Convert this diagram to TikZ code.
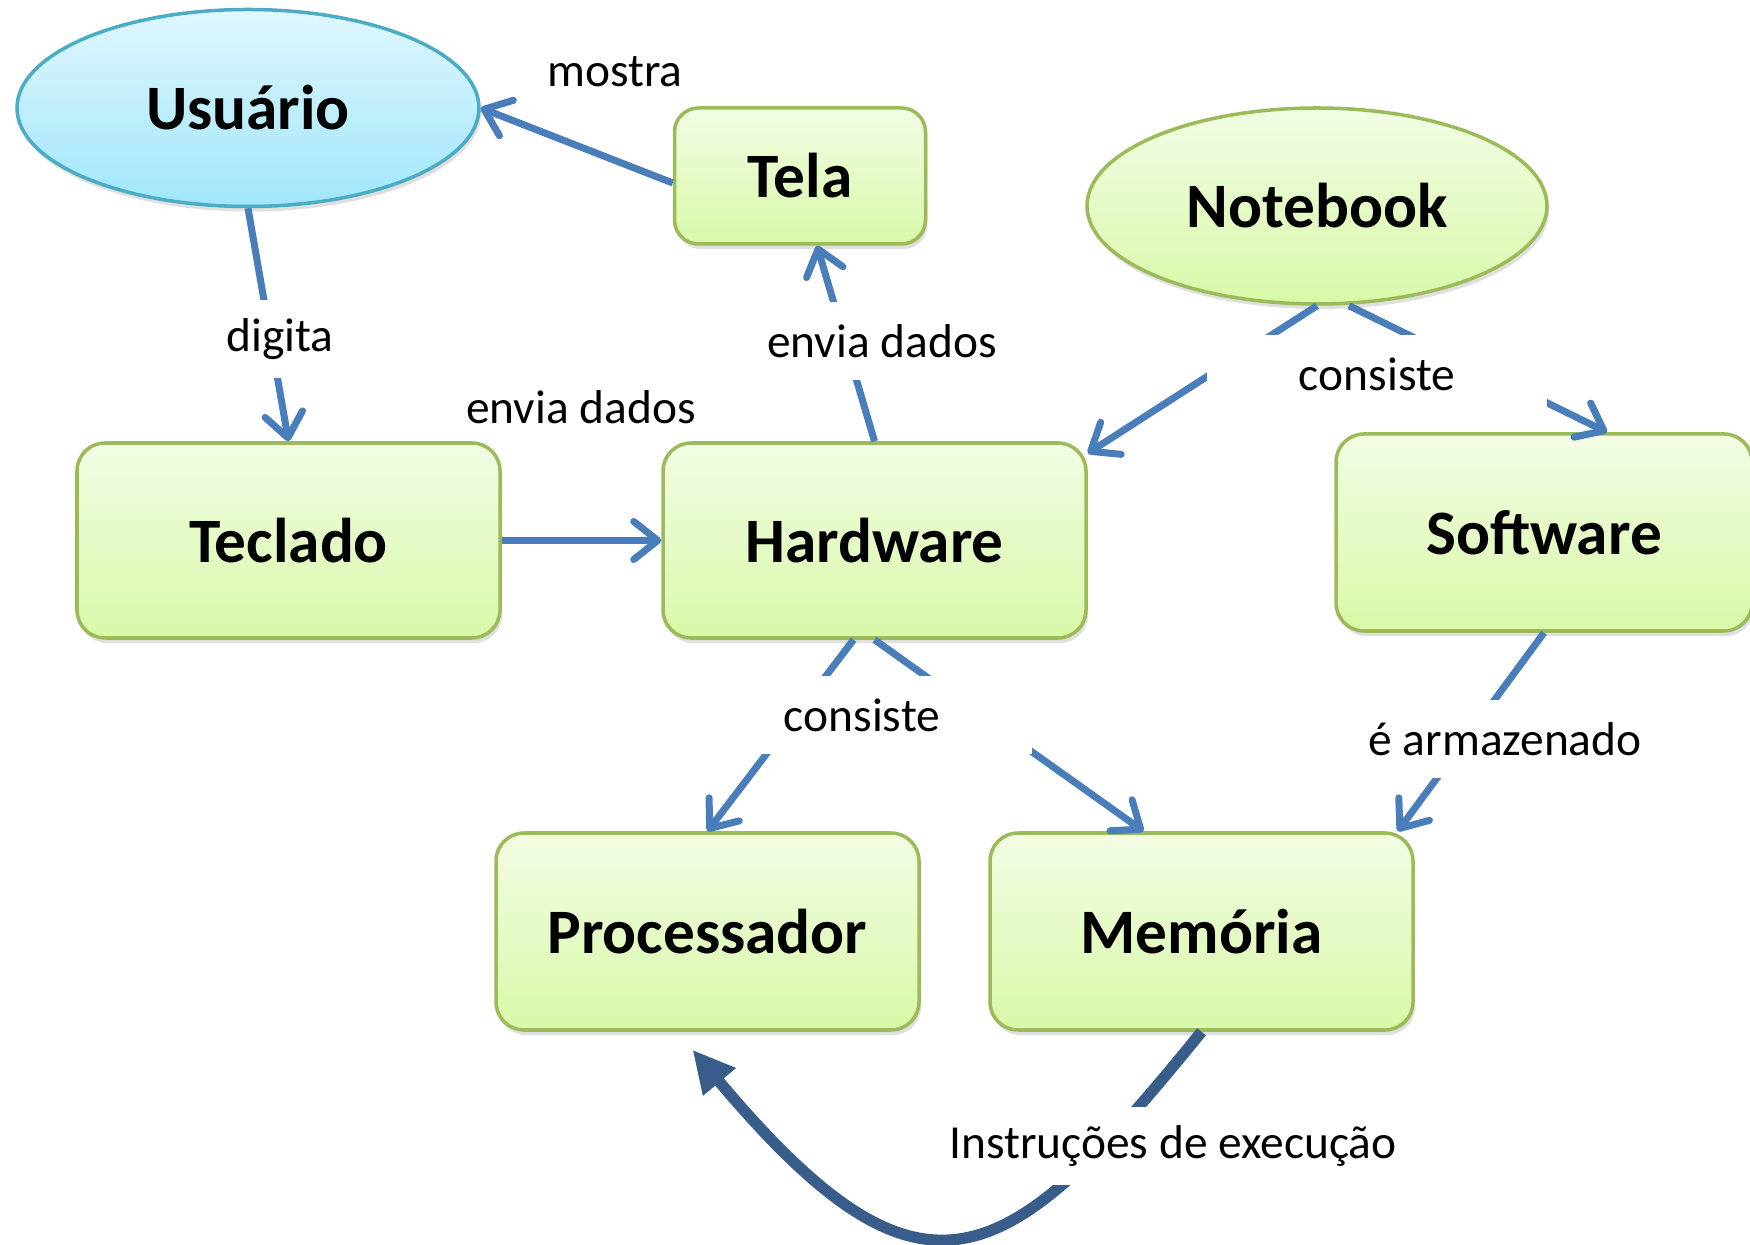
\documentclass[tikz,border=0pt]{standalone}
\usepackage{fontspec}
\setmainfont{Carlito}
\usetikzlibrary{arrows.meta,shadows,shapes.geometric}

\definecolor{lineblue}{RGB}{74,126,187}
\definecolor{curveblue}{RGB}{56,93,138}
\definecolor{boxgreen}{RGB}{155,187,89}
\definecolor{greentop}{RGB}{242,252,228}
\definecolor{greenbot}{RGB}{216,249,168}
\definecolor{cyanline}{RGB}{75,172,198}
\definecolor{cyantop}{RGB}{224,247,253}
\definecolor{cyanbot}{RGB}{160,230,251}

\begin{document}
\begin{tikzpicture}[
    concept/.style={draw=boxgreen, line width=1pt, top color=greentop, bottom color=greenbot,
        rounded corners=0.28cm, minimum width=4.23cm, minimum height=1.95cm,
        font=\fontsize{18}{21}\selectfont\bfseries,
        drop shadow={shadow xshift=0.02cm, shadow yshift=-0.05cm, opacity=0.25}},
    oval/.style={concept, ellipse, rounded corners=0pt, minimum width=4.6cm, minimum height=1.96cm},
    link/.style={font=\fontsize{13.5}{16}\selectfont},
    gap/.style={link, fill=white, minimum width=3.4cm, minimum height=0.78cm, inner sep=0pt},
    arr/.style={draw=lineblue, line width=2pt, -{Straight Barb[length=0.24cm,width=0.38cm,round]}},
    bigarr/.style={draw=curveblue, line width=3.2pt, -{Triangle[length=0.42cm,width=0.4cm]}}
  ]
    \useasboundingbox (0,0) rectangle (17.5,12.44);

    % Concepts
    \node[oval, draw=cyanline, top color=cyantop, bottom color=cyanbot, minimum width=4.62cm, minimum height=1.97cm] (usuario) at (2.48,11.36) {Usuário};
    \node[concept, minimum width=2.51cm, minimum height=1.36cm, rounded corners=0.24cm] (tela) at (8.00,10.68) {Tela};
    \node[oval] (notebook) at (13.17,10.38) {Notebook};
    \node[concept] (teclado) at (2.885,7.035) {Teclado};
    \node[concept] (hardware) at (8.745,7.035) {Hardware};
    \node[concept, minimum width=4.16cm, minimum height=1.97cm] (software) at (15.44,7.115) {Software};
    \node[concept, minimum height=1.97cm] (processador) at (7.075,3.125) {Processador};
    \node[concept, minimum height=1.97cm] (memoria) at (12.015,3.125) {Memória};

    % Connectors
    \draw[arr] ([yshift=-0.07cm]tela.west) -- (usuario.east);
    \draw[arr] (usuario.south) -- (teclado.north);
    \draw[arr] (teclado.east) -- (hardware.west);
    \draw[arr] (hardware.north) -- ([xshift=0.17cm]tela.south);
    \draw[arr] (notebook.south) -- ([yshift=-0.12cm]hardware.north east);
    \draw[arr] ([xshift=0.32cm]notebook.south) -- ([xshift=0.63cm]software.north);
    \draw[arr] ([xshift=-0.21cm]hardware.south) -- (processador.north);
    \draw[arr] (hardware.south) -- ([xshift=-0.58cm]memoria.north);
    \draw[arr] (software.south) -- ([xshift=-0.17cm]memoria.north east);

    % Instructions back to the processor
    \draw[bigarr] (memoria.south) .. controls +(-129:3.1cm) and +(-50:3.6cm) .. ([xshift=-0.15cm,yshift=-0.18cm]processador.south);

    % Linking phrases
    \node[link] (mostra) at (6.15,11.72) {mostra};
    \node[gap] (digita) at (2.80,9.05) {digita};
    \node[link] (enviaA) at (5.81,8.37) {envia dados};
    \node[gap] (enviaB) at (8.82,9.03) {envia dados};
    \node[gap] (consisteA) at (13.77,8.70) {consiste};
    \node[gap] (consisteB) at (8.62,5.29) {consiste};
    \node[gap] (armazenado) at (15.05,5.05) {é armazenado};
    \node[gap, inner xsep=0.15cm] (instrucoes) at (11.73,0.98) {Instruções de execução};
\end{tikzpicture}
\end{document}
